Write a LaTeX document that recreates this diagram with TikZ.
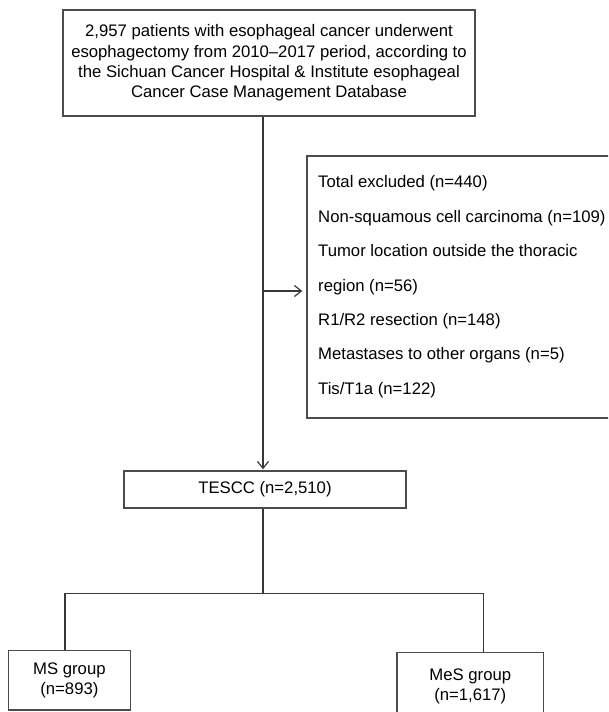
\documentclass[tikz,border=0pt]{standalone}
\usepackage{fontspec}
\setmainfont{Liberation Sans}
\usetikzlibrary{arrows.meta}
\begin{document}
\begin{tikzpicture}[x=1pt,y=-1pt,
  box/.style={draw=black!70, line width=1.3pt, inner sep=0pt, align=center,
    font=\fontsize{16.7}{20.3}\selectfont},
  conn/.style={draw=black!78, line width=1.3pt},
  arr/.style={conn, -{Straight Barb[length=7pt,width=11pt,line width=1.2pt]}}]
\clip (0,0) rectangle (608,712);
\fill[white] (0,0) rectangle (608,712);
\node[box, minimum width=412pt, minimum height=106pt] (top) at (269,63)
  {2,957 patients with esophageal cancer underwent\\
   esophagectomy from 2010--2017 period, according to\\
   the Sichuan Cancer Hospital \& Institute esophageal\\
   Cancer Case Management Database};
\node[box, minimum width=330pt, minimum height=262pt] (excl) at (472,287) {};
\node[anchor=north west, inner sep=0pt, align=left,
  font=\fontsize{16.7}{34.4}\selectfont] (excltxt) at (318,175.5)
  {Total excluded (n=440)\\
   Non-squamous cell carcinoma (n=109)\\
   Tumor location outside the thoracic\\
   region (n=56)\\
   R1/R2 resection (n=148)\\
   Metastases to other organs (n=5)\\
   Tis/T1a (n=122)};
\node[box, minimum width=282pt, minimum height=37pt] (tescc) at (265,489.5)
  {TESCC (n=2,510)};
\node[box, minimum width=122.4pt, minimum height=59.3pt] (ms) at (69.4,680.4)
  {MS group\\(n=893)};
\node[box, minimum width=146.6pt, minimum height=67.6pt] (mes) at (470.3,686.5)
  {MeS group\\(n=1,617)};
\coordinate (j) at (263,291);
\coordinate (b) at (263,593.7);
\draw[arr, shorten >=1pt] ([xshift=-6pt]top.south) -- ([xshift=-2pt]tescc.north);
\draw[arr, shorten >=4pt] (j) -- (j -| excl.west);
\draw[conn] ([xshift=-2pt]tescc.south) -- (b);
\draw[conn] ([xshift=-4.4pt]ms.north) |- (b) -| ([xshift=13.5pt]mes.north);
\end{tikzpicture}
\end{document}
